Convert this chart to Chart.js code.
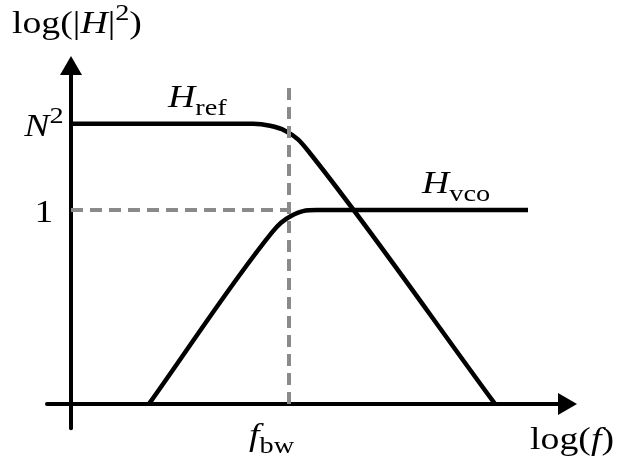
<!DOCTYPE html>
<html>
<head>
<meta charset="utf-8">
<script src="https://cdn.jsdelivr.net/npm/chart.js@4.4.1/dist/chart.umd.min.js"></script>
<style>
  html, body { margin: 0; padding: 0; background: #fff; }
  #wrap { width: 617px; height: 463px; }
</style>
</head>
<body>
<div id="wrap"><canvas id="pllNoiseChart"></canvas></div>
<script>
// log-frequency positions and log-gain levels (arbitrary units)
const fBw = 2.18;
const levelOne = 2.0;
const levelN2 = 2.89;

// reference path transfer: flat at N^2, rolls off past f_bw
const refLogF = [0, 1.82, 1.99, 2.14, 2.27, 2.38, 4.24];
const refGain = [2.89, 2.89, 2.87, 2.82, 2.73, 2.6, 0];

// VCO path transfer: rises up to f_bw, then flat at 1
const vcoLogF = [0.78, 2.01, 2.1, 2.2, 2.32, 2.46, 4.57];
const vcoGain = [0, 1.77, 1.87, 1.94, 1.99, 2.0, 2.0];

// axis extents (arrow tips) and top of the f_bw guide
const xAxisSpan = [-0.24, 5.06];
const yAxisSpan = [-0.25, 3.59];
const guideTop = 3.28;

// tick labels as [text, style] runs
const yTickValues = [levelN2, levelOne];
const yTickLabels = [
    [['N', 'it'], ['2', 'sup']],
    [['1', 'rm']]
];
const xTickValues = [fBw];
const xTickLabels = [
    [['f', 'it'], ['bw', 'sub']]
];
const seriesNames = [
    [['H', 'it'], ['ref', 'sub']],
    [['H', 'it'], ['vco', 'sub']]
];
const yTitle = [['log(|', 'rm'], ['H', 'it'], ['|', 'rm'], ['2', 'sup'], [')', 'rm']];
const xTitle = [['log(', 'rm'], ['f', 'it'], [')', 'rm']];

const toPoints = (xs, ys) => xs.map((v, i) => ({ x: v, y: ys[i] }));

// serif text runs, widened a little to get closer to TeX metrics
const STRETCH = 1.18;
function drawRich(ctx, runs, x, y, align) {
    const parts = runs.map(([t, s]) => {
        const small = s === 'sub' || s === 'sup';
        const font = (s === 'it' ? 'italic ' : '') + (small ? 24 : 32) + 'px "Liberation Serif"';
        ctx.font = font;
        return { t, font, w: ctx.measureText(t).width * STRETCH, dy: s === 'sub' ? 8 : (s === 'sup' ? -13 : 0) };
    });
    const total = parts.reduce((a, p) => a + p.w, 0);
    let cx = align === 'right' ? x - total : (align === 'center' ? x - total / 2 : x);
    ctx.textAlign = 'left';
    ctx.textBaseline = 'alphabetic';
    parts.forEach(p => {
        ctx.save();
        ctx.font = p.font;
        ctx.translate(cx, y + p.dy);
        ctx.scale(STRETCH, 1);
        ctx.fillText(p.t, 0, 0);
        ctx.restore();
        cx += p.w;
    });
}

const diagram = {
    id: 'diagram',
    beforeDatasetsDraw(chart) {
        const { ctx, scales: { x, y } } = chart;
        const x0 = x.getPixelForValue(0);
        const y0 = y.getPixelForValue(0);
        const xEnd = x.getPixelForValue(xAxisSpan[1]);
        const yEnd = y.getPixelForValue(yAxisSpan[1]);
        ctx.save();
        ctx.strokeStyle = '#000';
        ctx.fillStyle = '#000';
        ctx.lineWidth = 4;
        ctx.lineCap = 'round';
        // horizontal axis with arrow
        ctx.beginPath();
        ctx.moveTo(x.getPixelForValue(xAxisSpan[0]), y0);
        ctx.lineTo(xEnd - 16, y0);
        ctx.stroke();
        ctx.beginPath();
        ctx.moveTo(xEnd, y0);
        ctx.lineTo(xEnd - 19, y0 - 11);
        ctx.lineTo(xEnd - 19, y0 + 11);
        ctx.closePath();
        ctx.fill();
        // vertical axis with arrow
        ctx.beginPath();
        ctx.moveTo(x0, y.getPixelForValue(yAxisSpan[0]));
        ctx.lineTo(x0, yEnd + 16);
        ctx.stroke();
        ctx.beginPath();
        ctx.moveTo(x0, yEnd);
        ctx.lineTo(x0 - 11, yEnd + 19);
        ctx.lineTo(x0 + 11, yEnd + 19);
        ctx.closePath();
        ctx.fill();
        ctx.restore();
    },
    afterDraw(chart) {
        const { ctx, scales: { x, y } } = chart;
        const x0 = x.getPixelForValue(0);
        const y0 = y.getPixelForValue(0);
        ctx.save();
        ctx.fillStyle = '#000';
        yTickValues.forEach((v, i) => {
            drawRich(ctx, yTickLabels[i], x0 - 27, y.getPixelForValue(v) + 12, 'center');
        });
        xTickValues.forEach((v, i) => {
            drawRich(ctx, xTickLabels[i], x.getPixelForValue(v) - 40, y0 + 41, 'left');
        });
        drawRich(ctx, seriesNames[0], 168, y.getPixelForValue(levelN2) - 17, 'left');
        drawRich(ctx, seriesNames[1], 422, y.getPixelForValue(levelOne) - 17, 'left');
        drawRich(ctx, yTitle, 12, 33, 'left');
        drawRich(ctx, xTitle, 614, y0 + 45, 'right');
        ctx.restore();
    }
};

const guideStyle = {
    showLine: true,
    borderColor: '#8a8a8a',
    borderWidth: 4,
    borderDash: [12, 7],
    pointRadius: 0,
    tension: 0,
    clip: false,
    order: 0
};
const curveStyle = {
    showLine: true,
    borderColor: '#000',
    borderWidth: 4.5,
    pointRadius: 0,
    cubicInterpolationMode: 'monotone',
    clip: false,
    order: 1
};

const ctx = document.getElementById('pllNoiseChart').getContext('2d');
const pllNoiseChart = new Chart(ctx, {
    type: 'scatter',
    data: {
        datasets: [
            { label: 'H_ref', data: toPoints(refLogF, refGain), ...curveStyle },
            { label: 'H_vco', data: toPoints(vcoLogF, vcoGain), ...curveStyle },
            { label: 'level 1', data: toPoints([0, fBw], [levelOne, levelOne]), ...guideStyle },
            { label: 'f_bw', data: toPoints([fBw, fBw], [0, guideTop]), ...guideStyle }
        ]
    },
    options: {
        responsive: true,
        maintainAspectRatio: false,
        animation: false,
        layout: { padding: { left: 41, right: 26, top: 26, bottom: 30 } },
        plugins: {
            legend: { display: false },
            tooltip: { enabled: false }
        },
        scales: {
            x: { type: 'linear', min: -0.3, max: 5.2, display: false },
            y: { type: 'linear', min: -0.3, max: 3.9, display: false }
        }
    },
    plugins: [diagram]
});
</script>
</body>
</html>
